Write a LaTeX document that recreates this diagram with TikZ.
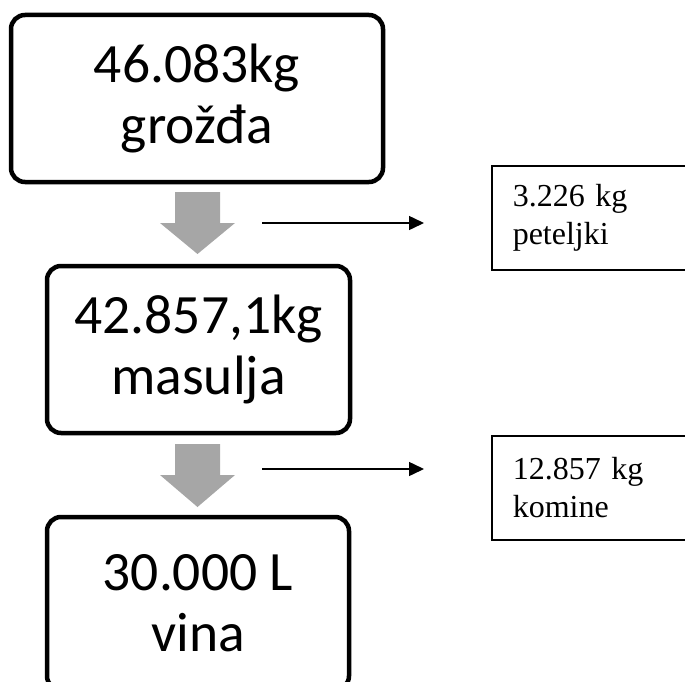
\documentclass[tikz,border=0pt]{standalone}
\usepackage{fontspec}
\setmainfont{Carlito}
\newfontfamily\tnr{Liberation Serif}
\usetikzlibrary{arrows.meta}
\definecolor{arrowgray}{HTML}{A6A6A6}
\tikzset{
  mainbox/.style={draw, line width=4.5pt, rounded corners=14pt, align=center,
    font=\fontsize{55.5}{61}\selectfont, inner sep=0pt},
  sidebox/.style={draw, line width=1.5pt, align=left, anchor=north west,
    font=\tnr\fontsize{32}{38}\selectfont, inner xsep=21pt, inner ysep=0pt},
  grayarrow/.style={fill=arrowgray, draw=none},
  thinarrow/.style={line width=1.5pt, -{Triangle[length=15pt,width=14pt]}}
}
\begin{document}
\begin{tikzpicture}[x=1pt,y=-1pt]
\useasboundingbox (0,0) rectangle (685,682);
% main boxes
\node[mainbox, minimum width=372pt, minimum height=167pt] (b1) at (197,98.5) {46.083kg\\grožđa};
\node[mainbox, minimum width=303pt, minimum height=167pt] (b2) at (198.5,349.5) {42.857,1kg\\masulja};
\node[mainbox, minimum width=302pt, minimum height=173pt] (b3) at (198,603.5) {30.000 L\\vina};
% gray block arrows
\coordinate (g1) at (197.5,192);
\coordinate (g2) at (197.5,444);
\fill[grayarrow] (g1) ++(-22.5,0) -- ++(45,0) -- ++(0,31) -- ++(15,0) -- ++(-37.5,31) -- ++(-37.5,-31) -- ++(15,0) -- cycle;
\fill[grayarrow] (g2) ++(-22.5,0) -- ++(45,0) -- ++(0,31) -- ++(15,0) -- ++(-37.5,32) -- ++(-37.5,-32) -- ++(15,0) -- cycle;
% side boxes
\node[sidebox, text width=178pt, minimum height=104pt] (s1) at (491,165) {3.226 kg\\peteljki};
\node[sidebox, text width=178pt, minimum height=104pt] (s2) at (491,435) {12.857 kg\\komine};
% thin arrows
\coordinate (a1s) at (262,223);
\coordinate (a1e) at (424,223);
\coordinate (a2s) at (262,469);
\coordinate (a2e) at (424,469);
\draw[thinarrow] (a1s) -- (a1e);
\draw[thinarrow] (a2s) -- (a2e);
\end{tikzpicture}
\end{document}
